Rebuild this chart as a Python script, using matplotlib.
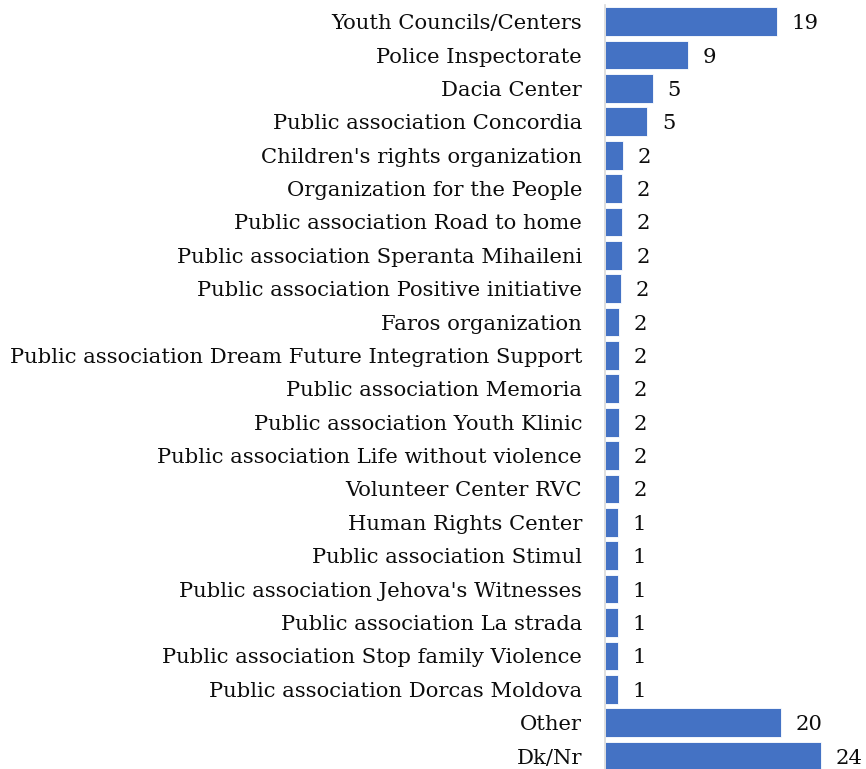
import matplotlib
matplotlib.use("Agg")
import matplotlib.pyplot as plt

# organisations, top to bottom as in the chart
categories = [
    "Youth Councils/Centers",
    "Police Inspectorate",
    "Dacia Center",
    "Public association Concordia",
    "Children's rights organization",
    "Organization for the People",
    "Public association Road to home",
    "Public association Speranta Mihaileni",
    "Public association Positive initiative",
    "Faros organization",
    "Public association Dream Future Integration Support",
    "Public association Memoria",
    "Public association Youth Klinic",
    "Public association Life without violence",
    "Volunteer Center RVC",
    "Human Rights Center",
    "Public association Stimul",
    "Public association Jehova's Witnesses",
    "Public association La strada",
    "Public association Stop family Violence",
    "Public association Dorcas Moldova",
    "Other",
    "Dk/Nr",
]
# estimated shares (bar lengths), labels shown rounded
values = [19.1, 9.2, 5.3, 4.7, 1.97, 1.86, 1.86, 1.86, 1.74, 1.6, 1.6, 1.6,
          1.6, 1.6, 1.55, 1.45, 1.45, 1.45, 1.45, 1.45, 1.45, 19.6, 24.0]
labels = [19, 9, 5, 5, 2, 2, 2, 2, 2, 2, 2, 2, 2, 2, 2, 1, 1, 1, 1, 1, 1, 20, 24]

plt.rcParams['font.family'] = ['DejaVu Serif']

fig = plt.figure(figsize=(8.66, 7.69), dpi=100)
ax = fig.add_axes([605/866, -0.0048, 234/866, 0.9983])

y = list(range(len(categories)))
bars = ax.barh(y, values, height=0.86, color="#4472C4", edgecolor="white", linewidth=0.6)

for rect, lab in zip(bars, labels):
    ax.annotate(str(lab), (rect.get_width(), rect.get_y() + rect.get_height() / 2),
                xytext=(10.5, 0), textcoords="offset points",
                ha="left", va="center_baseline", fontsize=15.2, color="#0d0d0d")

ax.set_yticks(y)
ax.set_yticklabels(categories, fontsize=15.2, color="#0d0d0d")
ax.set_ylim(len(categories) - 0.5, -0.5)
ax.set_xlim(0, 26)
ax.tick_params(axis="y", length=0, pad=16.5)
ax.set_xticks([])
for s in ["top", "right", "bottom"]:
    ax.spines[s].set_visible(False)
ax.spines["left"].set_color("#d9d9d9")
ax.spines["left"].set_linewidth(1.2)
ax.patch.set_alpha(0)

fig.savefig("out.png", dpi=100)
